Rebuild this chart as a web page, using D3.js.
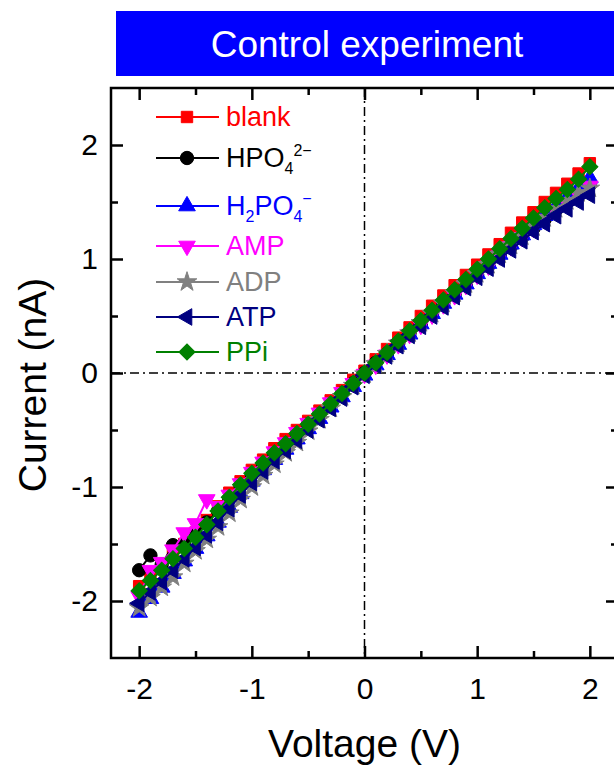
<!DOCTYPE html>
<html>
<head>
<meta charset="utf-8">
<script src="https://cdn.jsdelivr.net/npm/d3@7"></script>
<style>
  body { margin: 0; background: #fff; }
  svg { display: block; font-family: "Liberation Sans", Arial, sans-serif; }
  .tick text { font-size: 30px; fill: #000; }
</style>
</head>
<body>
<div id="chart"></div>
<script>
// voltage sweep (V)
const voltage = [-2.0, -1.9, -1.8, -1.7, -1.6, -1.5, -1.4, -1.3, -1.2, -1.1, -1.0,
  -0.9, -0.8, -0.7, -0.6, -0.5, -0.4, -0.3, -0.2, -0.1, 0.0,
  0.1, 0.2, 0.3, 0.4, 0.5, 0.6, 0.7, 0.8, 0.9, 1.0,
  1.1, 1.2, 1.3, 1.4, 1.5, 1.6, 1.7, 1.8, 1.9, 2.0];

// current (nA) per sample
const blank = [-1.87, -1.78, -1.69, -1.59, -1.50, -1.40, -1.29, -1.17, -1.05, -0.95, -0.85,
  -0.76, -0.66, -0.58, -0.50, -0.42, -0.33, -0.24, -0.15, -0.06, 0.02,
  0.12, 0.21, 0.31, 0.40, 0.50, 0.59, 0.68, 0.77, 0.86, 0.95,
  1.04, 1.13, 1.23, 1.32, 1.41, 1.50, 1.58, 1.66, 1.75, 1.84];
const hpo4 = [-1.73, -1.60, -1.68, -1.51, -1.50, -1.41, -1.31, -1.21, -1.10, -0.99, -0.89,
  -0.80, -0.71, -0.62, -0.54, -0.45, -0.36, -0.27, -0.18, -0.09, 0.00,
  0.09, 0.17, 0.26, 0.35, 0.43, 0.52, 0.61, 0.69, 0.78, 0.86,
  0.94, 1.03, 1.11, 1.19, 1.27, 1.35, 1.43, 1.51, 1.59, 1.65];
const h2po4 = [-2.10, -1.98, -1.88, -1.76, -1.65, -1.54, -1.43, -1.31, -1.18, -1.06, -0.95,
  -0.85, -0.76, -0.67, -0.58, -0.49, -0.40, -0.30, -0.21, -0.12, -0.02,
  0.07, 0.16, 0.25, 0.34, 0.43, 0.52, 0.61, 0.69, 0.78, 0.87,
  0.96, 1.04, 1.13, 1.21, 1.30, 1.38, 1.46, 1.54, 1.62, 1.71];
const amp = [-1.96, -1.73, -1.66, -1.55, -1.40, -1.32, -1.11, -1.17, -1.07, -0.97, -0.87,
  -0.78, -0.69, -0.61, -0.52, -0.44, -0.35, -0.26, -0.17, -0.09, -0.01,
  0.07, 0.16, 0.25, 0.34, 0.42, 0.51, 0.60, 0.68, 0.77, 0.86,
  0.94, 1.03, 1.11, 1.19, 1.27, 1.35, 1.42, 1.49, 1.56, 1.64];
const adp = [-2.06, -1.97, -1.88, -1.79, -1.67, -1.56, -1.46, -1.35, -1.23, -1.11, -1.00,
  -0.90, -0.80, -0.70, -0.61, -0.51, -0.41, -0.31, -0.21, -0.11, -0.01,
  0.08, 0.17, 0.26, 0.35, 0.44, 0.52, 0.61, 0.70, 0.78, 0.87,
  0.95, 1.04, 1.12, 1.20, 1.28, 1.36, 1.44, 1.51, 1.58, 1.62];
const atp = [-2.02, -1.92, -1.83, -1.73, -1.63, -1.53, -1.42, -1.31, -1.19, -1.07, -0.96,
  -0.86, -0.77, -0.68, -0.59, -0.50, -0.41, -0.31, -0.22, -0.12, -0.02,
  0.07, 0.15, 0.24, 0.33, 0.41, 0.50, 0.58, 0.67, 0.75, 0.84,
  0.92, 1.00, 1.08, 1.16, 1.24, 1.31, 1.38, 1.44, 1.50, 1.56];
const ppi = [-1.91, -1.82, -1.73, -1.63, -1.54, -1.44, -1.33, -1.21, -1.09, -0.98, -0.88,
  -0.79, -0.70, -0.62, -0.53, -0.45, -0.36, -0.27, -0.18, -0.09, 0.00,
  0.09, 0.18, 0.28, 0.37, 0.46, 0.55, 0.64, 0.73, 0.82, 0.91,
  1.00, 1.09, 1.18, 1.27, 1.36, 1.45, 1.53, 1.61, 1.70, 1.81];

const xTicks = [-2, -1, 0, 1, 2];
const yTicks = [-2, -1, 0, 1, 2];
const titleText = "Control experiment";

// series styling (drawing order = legend order, last one on top)
const series = [
  {values: blank, color: "#ff0000", symbol: "square", label: [["blank"]]},
  {values: hpo4, color: "#000000", symbol: "circle", label: [["HPO"], ["4", "sub"], ["2\u2212", "sup"]]},
  {values: h2po4, color: "#0000ff", symbol: "up", label: [["H"], ["2", "sub"], ["PO"], ["4", "sub"], ["\u2212", "sup"]]},
  {values: amp, color: "#ff00ff", symbol: "down", label: [["AMP"]]},
  {values: adp, color: "#808080", symbol: "star", label: [["ADP"]]},
  {values: atp, color: "#000080", symbol: "left", label: [["ATP"]]},
  {values: ppi, color: "#008000", symbol: "diamond", label: [["PPi"]]}
];

const W = 614, H = 769;
const plot = {left: 111, right: 618, top: 88, bottom: 658};

const svg = d3.select("#chart").append("svg")
  .attr("width", W).attr("height", H);

const x = d3.scaleLinear().domain([-2.25, 2.25]).range([plot.left, plot.right]);
const y = d3.scaleLinear().domain([-2.5, 2.5]).range([plot.bottom, plot.top]);

// title box
svg.append("rect")
  .attr("x", 116).attr("y", 11).attr("width", W - 116).attr("height", 65)
  .attr("fill", "#0000ff");
svg.append("text")
  .attr("x", 367).attr("y", 57)
  .attr("text-anchor", "middle")
  .attr("font-size", 37).attr("fill", "#fff")
  .text(titleText);

// zero lines
const dash = "9,4,2,4";
svg.append("line")
  .attr("x1", plot.left).attr("x2", plot.right)
  .attr("y1", y(0)).attr("y2", y(0))
  .attr("stroke", "#000").attr("stroke-width", 1.5).attr("stroke-dasharray", dash);
svg.append("line")
  .attr("x1", x(0)).attr("x2", x(0))
  .attr("y1", plot.top).attr("y2", plot.bottom)
  .attr("stroke", "#000").attr("stroke-width", 1.5).attr("stroke-dasharray", dash);

// symbol paths
function symbolPath(name) {
  if (name === "square") return {d: d3.symbol(d3.symbolSquare, 130)(), rot: 0};
  if (name === "circle") return {d: d3.symbol(d3.symbolCircle, 140)(), rot: 0};
  if (name === "up") return {d: d3.symbol(d3.symbolTriangle, 120)(), rot: 0};
  if (name === "down") return {d: d3.symbol(d3.symbolTriangle, 120)(), rot: 180};
  if (name === "left") return {d: d3.symbol(d3.symbolTriangle, 120)(), rot: -90};
  if (name === "star") return {d: d3.symbol(d3.symbolStar, 120)(), rot: 0};
  return {d: d3.symbol(d3.symbolSquare, 130)(), rot: 45};
}

const line = d3.line()
  .x((d, i) => x(voltage[i]))
  .y(d => y(d));

const marks = svg.append("g");
series.forEach(s => {
  const g = marks.append("g");
  g.append("path")
    .attr("d", line(s.values))
    .attr("fill", "none")
    .attr("stroke", s.color)
    .attr("stroke-width", 2);
  const sym = symbolPath(s.symbol);
  g.selectAll("path.pt")
    .data(s.values)
    .enter().append("path")
    .attr("class", "pt")
    .attr("d", sym.d)
    .attr("transform", (d, i) => `translate(${x(voltage[i])},${y(d)}) rotate(${sym.rot})`)
    .attr("fill", s.color)
    .attr("stroke", s.color)
    .attr("stroke-width", 1);
});

// axes: major ticks inward with labels, minor ticks inward
const minorX = [-1.5, -0.5, 0.5, 1.5];
const minorY = [-1.5, -0.5, 0.5, 1.5];
const fmt = d => String(d);

function styleAxis(g) {
  g.select(".domain").remove();
  g.selectAll(".tick line").attr("stroke", "#000").attr("stroke-width", 2.5);
}

svg.append("g")
  .attr("transform", `translate(0,${plot.bottom})`)
  .call(d3.axisBottom(x).tickValues(xTicks).tickSize(-12).tickPadding(20).tickFormat(fmt))
  .call(styleAxis)
  .selectAll("text").attr("dy", "0.71em");
svg.append("g")
  .attr("transform", `translate(0,${plot.bottom})`)
  .call(d3.axisBottom(x).tickValues(minorX).tickSize(-7).tickFormat(""))
  .call(styleAxis);
svg.append("g")
  .attr("transform", `translate(0,${plot.top})`)
  .call(d3.axisTop(x).tickValues(xTicks).tickSize(-12).tickFormat(""))
  .call(styleAxis);
svg.append("g")
  .attr("transform", `translate(0,${plot.top})`)
  .call(d3.axisTop(x).tickValues(minorX).tickSize(-7).tickFormat(""))
  .call(styleAxis);

svg.append("g")
  .attr("transform", `translate(${plot.left},0)`)
  .call(d3.axisLeft(y).tickValues(yTicks).tickSize(-12).tickPadding(13).tickFormat(fmt))
  .call(styleAxis);
svg.append("g")
  .attr("transform", `translate(${plot.left},0)`)
  .call(d3.axisLeft(y).tickValues(minorY).tickSize(-7).tickFormat(""))
  .call(styleAxis);
svg.append("g")
  .attr("transform", `translate(${plot.right},0)`)
  .call(d3.axisRight(y).tickValues(yTicks).tickSize(-12).tickFormat(""))
  .call(styleAxis);
svg.append("g")
  .attr("transform", `translate(${plot.right},0)`)
  .call(d3.axisRight(y).tickValues(minorY).tickSize(-7).tickFormat(""))
  .call(styleAxis);

svg.selectAll(".tick text").attr("font-family", null).attr("font-size", null);

// frame
svg.append("rect")
  .attr("x", plot.left).attr("y", plot.top)
  .attr("width", plot.right - plot.left).attr("height", plot.bottom - plot.top)
  .attr("fill", "none").attr("stroke", "#000").attr("stroke-width", 2.5);

// axis titles
svg.append("text")
  .attr("x", x(0)).attr("y", 757)
  .attr("text-anchor", "middle").attr("font-size", 39)
  .text("Voltage (V)");
svg.append("text")
  .attr("transform", `translate(46,385) rotate(-90)`)
  .attr("text-anchor", "middle").attr("font-size", 39)
  .text("Current (nA)");

// legend
const legendY = [117, 158, 206, 246, 282, 317, 352];
const legend = svg.append("g");
series.forEach((s, i) => {
  const ly = legendY[i];
  legend.append("line")
    .attr("x1", 156).attr("x2", 219).attr("y1", ly).attr("y2", ly)
    .attr("stroke", s.color).attr("stroke-width", 2);
  const sym = symbolPath(s.symbol);
  legend.append("path")
    .attr("d", sym.d)
    .attr("transform", `translate(187,${ly}) rotate(${sym.rot})`)
    .attr("fill", s.color).attr("stroke", s.color);
  const t = legend.append("text")
    .attr("x", 226).attr("y", ly + 9)
    .attr("font-size", 27).attr("fill", s.color);
  let shift = 0;
  s.label.forEach(part => {
    const [txt, kind] = part;
    let target = 0;
    if (kind === "sub") target = 7;
    if (kind === "sup") target = -11;
    t.append("tspan")
      .attr("dy", target - shift)
      .attr("font-size", kind ? 16 : 27)
      .text(txt);
    shift = target;
  });
});
</script>
</body>
</html>
